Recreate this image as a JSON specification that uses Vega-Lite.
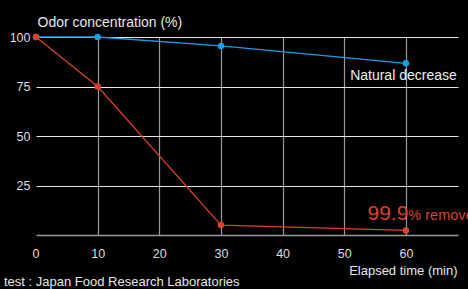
{
  "$schema": "https://vega.github.io/schema/vega-lite/v6.json",
  "width": 422,
  "height": 198,
  "autosize": {"type": "none"},
  "padding": {"left": 36, "top": 37, "right": 10, "bottom": 54},
  "background": "#000000",
  "config": {
    "view": {"stroke": null},
    "font": "Liberation Sans",
    "axis": {"labelFont": "Liberation Sans", "titleFont": "Liberation Sans", "labelColor": "#dddddd", "titleColor": "#e6e6e6", "labelFontSize": 12.5, "titleFontSize": 13, "titleFontWeight": "normal", "ticks": false}
  },
  "title": {
    "text": "test : Japan Food Research Laboratories",
    "orient": "bottom",
    "anchor": "start",
    "frame": "group",
    "dx": -32,
    "dy": 9,
    "offset": 0,
    "baseline": "alphabetic",
    "font": "Liberation Sans",
    "fontSize": 13,
    "fontWeight": "normal",
    "color": "#e6e6e6"
  },
  "datasets": {
    "series": [
      {"time": 0, "value": 100, "series": "Natural decrease"},
      {"time": 10, "value": 100, "series": "Natural decrease"},
      {"time": 30, "value": 95.5, "series": "Natural decrease"},
      {"time": 60, "value": 86.7, "series": "Natural decrease"},
      {"time": 0, "value": 100, "series": "Removed"},
      {"time": 10, "value": 75, "series": "Removed"},
      {"time": 30, "value": 5, "series": "Removed"},
      {"time": 60, "value": 2.3, "series": "Removed"}
    ],
    "labels": [
      {"time": 59.6, "value": 80.3, "text": "Natural decrease"}
    ],
    "big": [
      {"time": 60.4, "value": 7.8, "text": "99.9"}
    ],
    "small": [
      {"time": 60.4, "value": 7.8, "text": "% removed"}
    ]
  },
  "layer": [
    {
      "data": {"name": "series"},
      "mark": {"type": "line", "strokeWidth": 1.3},
      "encoding": {
        "x": {
          "field": "time", "type": "quantitative",
          "scale": {"domain": [0, 68.45], "nice": false, "zero": false},
          "axis": {
            "values": [0, 10, 20, 30, 40, 50, 60],
            "title": "Elapsed time (min)",
            "titleAlign": "right", "titleX": 421, "titleY": 39, "titleBaseline": "alphabetic",
            "grid": true, "gridColor": "#9a9a9a", "gridWidth": 1.2,
            "gridOpacity": {"condition": {"test": "datum.value == 0", "value": 0}, "value": 1},
            "labelOffset": {"condition": {"test": "datum.value == 0", "value": -4}, "value": 0},
            "domainColor": "#9a9a9a", "domainWidth": 1.5,
            "labelPadding": 12
          }
        },
        "y": {
          "field": "value", "type": "quantitative",
          "scale": {"domain": [0, 100], "nice": false},
          "axis": {
            "values": [25, 50, 75, 100],
            "title": "Odor concentration (%)",
            "titleAngle": 0, "titleAlign": "left", "titleX": 1, "titleY": -11, "titleBaseline": "alphabetic", "titleFontSize": 14,
            "grid": true, "gridColor": "#e6e6e6", "gridWidth": 1.2,
            "domain": false, "labelPadding": 6
          }
        },
        "color": {
          "field": "series", "type": "nominal",
          "scale": {"domain": ["Natural decrease", "Removed"], "range": ["#1a9ee0", "#d9422b"]},
          "legend": null
        }
      }
    },
    {
      "data": {"name": "series"},
      "mark": {"type": "circle", "size": 42, "opacity": 1},
      "encoding": {
        "x": {"field": "time", "type": "quantitative"},
        "y": {"field": "value", "type": "quantitative"},
        "color": {"field": "series", "type": "nominal", "legend": null},
        "order": {"field": "series", "sort": "ascending"}
      }
    },
    {
      "data": {"name": "labels"},
      "mark": {"type": "text", "align": "center", "baseline": "middle", "fontSize": 14, "color": "#eeeeee", "font": "Liberation Sans"},
      "encoding": {
        "x": {"field": "time", "type": "quantitative"},
        "y": {"field": "value", "type": "quantitative"},
        "text": {"field": "text"}
      }
    },
    {
      "data": {"name": "big"},
      "mark": {"type": "text", "align": "right", "baseline": "alphabetic", "fontSize": 21, "color": "#d9422b", "font": "Liberation Sans"},
      "encoding": {
        "x": {"field": "time", "type": "quantitative"},
        "y": {"field": "value", "type": "quantitative"},
        "text": {"field": "text"}
      }
    },
    {
      "data": {"name": "small"},
      "mark": {"type": "text", "align": "left", "baseline": "alphabetic", "fontSize": 14.5, "color": "#d9422b", "font": "Liberation Sans"},
      "encoding": {
        "x": {"field": "time", "type": "quantitative"},
        "y": {"field": "value", "type": "quantitative"},
        "text": {"field": "text"}
      }
    }
  ]
}
